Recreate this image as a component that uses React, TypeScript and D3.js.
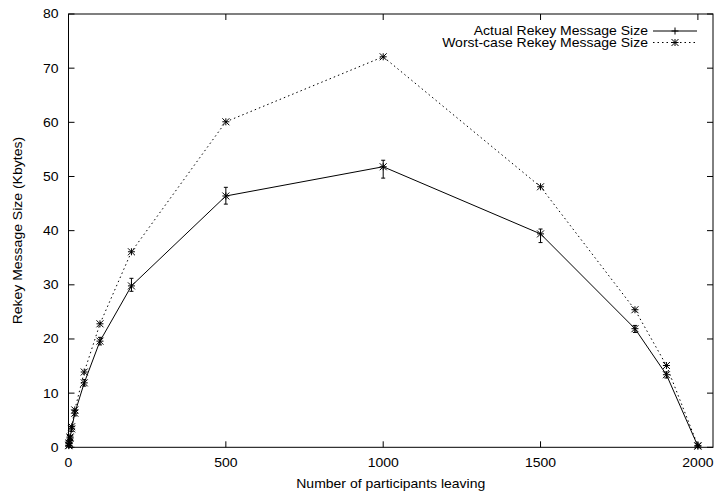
import { useRef, useEffect } from 'react';
import * as d3 from 'd3';

// participants leaving (x)
const leaving = [1, 2, 5, 10, 20, 50, 100, 200, 500, 1000, 1500, 1800, 1900, 2000];
// actual rekey message size (Kbytes) with error range
const actualSize = [0.3, 0.7, 1.7, 3.4, 6.3, 11.9, 19.6, 29.8, 46.4, 51.8, 39.4, 21.9, 13.4, 0.2];
const actualLow = [0.1, 0.4, 1.3, 2.9, 5.8, 11.3, 18.9, 28.8, 44.9, 49.7, 37.8, 21.2, 12.8, 0.0];
const actualHigh = [0.5, 1.0, 2.1, 3.9, 6.8, 12.5, 20.3, 31.2, 48.0, 53.0, 40.3, 22.5, 13.9, 0.4];
// worst-case rekey message size (Kbytes)
const worstSize = [0.4, 0.8, 1.9, 3.8, 6.9, 13.9, 22.8, 36.1, 60.1, 72.1, 48.1, 25.4, 15.1, 0.3];

const xTicks = [0, 500, 1000, 1500, 2000];
const yTicks = [0, 10, 20, 30, 40, 50, 60, 70, 80];

export default function App() {
  const svgRef = useRef(null);

  useEffect(() => {
    const width = 714;
    const height = 495;
    const margin = { top: 14, right: 1, bottom: 48, left: 68.5 };
    const font = '"Liberation Sans", Arial, sans-serif';

    const svg = d3.select(svgRef.current)
      .attr('width', width)
      .attr('height', height);
    svg.selectAll('*').remove();

    const x = d3.scaleLinear().domain([0, 2048]).range([margin.left, width - margin.right]);
    const y = d3.scaleLinear().domain([0, 80]).range([height - margin.bottom + 0.3, margin.top]);

    const x0 = x.range()[0], x1 = x.range()[1];
    const y0 = y.range()[0], y1 = y.range()[1];
    const tick = 6;

    // gnuplot text is a bit wider than Liberation Sans, stretch it
    const label = (tx, ty, str, anchor, rot = 0) =>
      svg.append('text')
        .attr('transform', `translate(${tx},${ty}) rotate(${rot}) scale(1.12,1)`)
        .attr('text-anchor', anchor)
        .attr('font-family', font).attr('font-size', 12.5)
        .text(str);

    // ticks on all four sides, pointing inward
    const g = svg.append('g').attr('stroke', '#000').attr('stroke-width', 1);
    xTicks.forEach(t => {
      g.append('line').attr('x1', x(t)).attr('x2', x(t)).attr('y1', y0).attr('y2', y0 - tick);
      g.append('line').attr('x1', x(t)).attr('x2', x(t)).attr('y1', y1).attr('y2', y1 + tick);
    });
    yTicks.forEach(t => {
      g.append('line').attr('x1', x0).attr('x2', x0 + tick).attr('y1', y(t)).attr('y2', y(t));
      g.append('line').attr('x1', x1).attr('x2', x1 - tick).attr('y1', y(t)).attr('y2', y(t));
    });
    g.append('rect')
      .attr('x', x0).attr('y', y1)
      .attr('width', x1 - x0).attr('height', y0 - y1)
      .attr('fill', 'none');

    // tick labels
    xTicks.forEach(t => label(x(t), y0 + 19.5, t, 'middle'));
    yTicks.forEach(t => label(x0 - 10, y(t) + 4.4, t, 'end'));

    // axis titles
    label((x0 + x1) / 2, 487.5, 'Number of participants leaving', 'middle');
    label(22, (y0 + y1) / 2, 'Rekey Message Size (Kbytes)', 'middle', -90);

    const line = d3.line<number>()
      .x((d, i) => x(leaving[i]))
      .y(d => y(d));

    const star = (sel, cx, cy, r = 3.5) => {
      const gg = sel.append('g').attr('stroke', '#000').attr('stroke-width', 1);
      gg.append('line').attr('x1', cx - r).attr('x2', cx + r).attr('y1', cy).attr('y2', cy);
      gg.append('line').attr('x1', cx).attr('x2', cx).attr('y1', cy - r).attr('y2', cy + r);
      gg.append('line').attr('x1', cx - r).attr('x2', cx + r).attr('y1', cy - r).attr('y2', cy + r);
      gg.append('line').attr('x1', cx - r).attr('x2', cx + r).attr('y1', cy + r).attr('y2', cy - r);
    };
    const plus = (sel, cx, cy, r = 3.5) => {
      const gg = sel.append('g').attr('stroke', '#000').attr('stroke-width', 1);
      gg.append('line').attr('x1', cx - r).attr('x2', cx + r).attr('y1', cy).attr('y2', cy);
      gg.append('line').attr('x1', cx).attr('x2', cx).attr('y1', cy - r).attr('y2', cy + r);
    };

    // worst-case (dotted)
    svg.append('path')
      .attr('d', line(worstSize))
      .attr('fill', 'none').attr('stroke', '#000').attr('stroke-width', 1)
      .attr('stroke-dasharray', '1.5,3');
    const wg = svg.append('g');
    worstSize.forEach((v, i) => star(wg, x(leaving[i]), y(v)));

    // actual (solid) with error bars
    svg.append('path')
      .attr('d', line(actualSize))
      .attr('fill', 'none').attr('stroke', '#000').attr('stroke-width', 1);
    const eg = svg.append('g').attr('stroke', '#000').attr('stroke-width', 1);
    leaving.forEach((l, i) => {
      const cx = x(l);
      eg.append('line').attr('x1', cx).attr('x2', cx).attr('y1', y(actualLow[i])).attr('y2', y(actualHigh[i]));
      eg.append('line').attr('x1', cx - 2).attr('x2', cx + 2).attr('y1', y(actualLow[i])).attr('y2', y(actualLow[i]));
      eg.append('line').attr('x1', cx - 2).attr('x2', cx + 2).attr('y1', y(actualHigh[i])).attr('y2', y(actualHigh[i]));
    });
    const ag = svg.append('g');
    actualSize.forEach((v, i) => star(ag, x(leaving[i]), y(v)));

    // legend
    const legend = [
      { label: 'Actual Rekey Message Size', dash: null, mark: plus, ly: 31 },
      { label: 'Worst-case Rekey Message Size', dash: '1.5,3', mark: star, ly: 42.5 },
    ];
    legend.forEach(d => {
      label(648, d.ly + 4, d.label, 'end');
      svg.append('line')
        .attr('x1', 653).attr('x2', 697).attr('y1', d.ly).attr('y2', d.ly)
        .attr('stroke', '#000').attr('stroke-width', 1)
        .attr('stroke-dasharray', d.dash);
      d.mark(svg, 675, d.ly);
    });
  }, []);

  return (
    <svg ref={svgRef} style={{ position: 'absolute', left: 0, top: 0, background: '#fff' }} />
  );
}
